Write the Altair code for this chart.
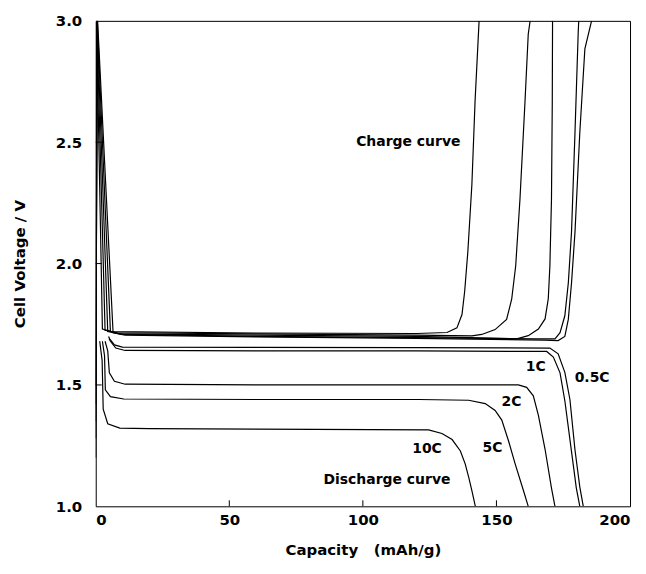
import altair as alt
import pandas as pd

# ---- Charge curves (capacity mAh/g, voltage V) ----
ch1_cap = [0.0, 0.3, 2.5, 6, 60, 120, 131.5, 135.2, 137.1, 138.1, 139.3, 140.8, 142.0, 143.5]
ch1_v = [1.20, 3.0, 1.73, 1.72, 1.714, 1.712, 1.716, 1.735, 1.79, 1.885, 2.05, 2.325, 2.67, 3.0]

ch2_cap = [0.0, 0.4, 3.5, 8, 60, 120, 140.8, 144.5, 149.5, 153.8, 155.7, 157.2, 158.8, 160.7, 161.9, 162.6]
ch2_v = [1.28, 3.0, 1.725, 1.715, 1.71, 1.705, 1.702, 1.708, 1.728, 1.77, 1.853, 1.99, 2.265, 2.67, 2.945, 3.0]

ch3_cap = [0.0, 0.5, 4.5, 9, 60, 120, 157.6, 161.9, 165.7, 168.2, 169.4, 170.0, 170.6, 170.9, 171.0]
ch3_v = [1.35, 3.0, 1.72, 1.71, 1.705, 1.70, 1.69, 1.703, 1.73, 1.772, 1.855, 1.99, 2.265, 2.67, 3.0]

ch4_cap = [0.0, 0.6, 5.5, 10, 60, 120, 165, 171.9, 173.8, 175.6, 176.9, 178.1, 179.4, 180.6, 180.8]
ch4_v = [1.42, 3.0, 1.72, 1.708, 1.70, 1.695, 1.69, 1.69, 1.715, 1.785, 1.92, 2.13, 2.54, 2.95, 3.0]

ch5_cap = [0.0, 0.7, 6.5, 11, 60, 120, 168, 173.1, 175.6, 176.9, 178.1, 179.4, 181.2, 183.1, 185.6]
ch5_v = [1.50, 3.0, 1.715, 1.705, 1.698, 1.692, 1.685, 1.683, 1.70, 1.77, 1.92, 2.13, 2.54, 2.885, 3.0]

# ---- Discharge curves ----
d10_cap = [1.5, 2.4, 2.8, 4.5, 9, 20, 60, 124.6, 129.6, 133.4, 136.5, 138.3, 139.6, 140.8, 142.1]
d10_v = [1.68, 1.60, 1.40, 1.34, 1.322, 1.32, 1.318, 1.315, 1.30, 1.275, 1.228, 1.175, 1.12, 1.065, 1.0]

d5_cap = [2.5, 3.3, 3.6, 5.5, 10.5, 60, 120.9, 139.6, 145.8, 149.5, 152.0, 154.5, 157.0, 160.1, 161.9]
d5_v = [1.68, 1.62, 1.48, 1.452, 1.442, 1.44, 1.44, 1.437, 1.423, 1.395, 1.355, 1.27, 1.175, 1.065, 1.0]

d2_cap = [3.5, 4.5, 5.1, 7, 11, 60, 120, 158.2, 161.3, 163.8, 165.7, 168.2, 170.6, 171.9]
d2_v = [1.68, 1.64, 1.55, 1.515, 1.503, 1.50, 1.50, 1.50, 1.49, 1.455, 1.375, 1.235, 1.075, 1.0]

d1_cap = [5.0, 5.5, 7.5, 11, 60, 120, 168.8, 171.3, 173.8, 175.6, 178.1, 179.9, 181.2]
d1_v = [1.69, 1.68, 1.652, 1.642, 1.64, 1.64, 1.638, 1.615, 1.55, 1.435, 1.225, 1.075, 1.0]

d05_cap = [4.8, 5.2, 7, 10, 60, 120, 170.0, 173.1, 175.6, 177.5, 179.4, 181.2, 182.5]
d05_v = [1.70, 1.69, 1.665, 1.656, 1.655, 1.654, 1.652, 1.628, 1.552, 1.44, 1.232, 1.08, 1.0]

# ---- Annotations ----
ann_text = ["Charge curve", "Discharge curve", "10C", "5C", "2C", "1C", "0.5C"]
ann_x = [117, 109, 124, 148.5, 155.6, 164.7, 185.8]
ann_y = [2.50, 1.11, 1.235, 1.24, 1.43, 1.575, 1.53]

x_ticks = [0, 50, 100, 150, 200]
y_ticks = [1.0, 1.5, 2.0, 2.5, 3.0]
x_inner = [50, 100, 150]
y_inner = [1.5, 2.0, 2.5]

series = [
    ("ch1", ch1_cap, ch1_v), ("ch2", ch2_cap, ch2_v), ("ch3", ch3_cap, ch3_v),
    ("ch4", ch4_cap, ch4_v), ("ch5", ch5_cap, ch5_v),
    ("d10", d10_cap, d10_v), ("d5", d5_cap, d5_v), ("d2", d2_cap, d2_v),
    ("d1", d1_cap, d1_v), ("d05", d05_cap, d05_v),
]
rows = []
for name, caps, vs in series:
    for i, (c, v) in enumerate(zip(caps, vs)):
        rows.append({"series": name, "cap": c, "v": v, "ord": i})
df = pd.DataFrame(rows)
ann = pd.DataFrame({"label": ann_text, "cap": ann_x, "v": ann_y})

W, H = 536, 487
FONT = "DejaVu Sans"
xs = alt.Scale(domain=[0, 200], nice=False, zero=False)
ys = alt.Scale(domain=[1.0, 3.0], nice=False, zero=False)
X_TITLE = "Capacity\u00a0\u00a0\u00a0(mAh/g)"
Y_TITLE = "Cell Voltage / V"
x_axis = alt.Axis(values=x_ticks, format="d", labelPadding=6, titlePadding=15)
y_axis = alt.Axis(values=y_ticks, format=".1f", labelPadding=14, titlePadding=28)


def X():
    return alt.X("cap:Q", scale=xs, axis=x_axis, title=X_TITLE)


def Y():
    return alt.Y("v:Q", scale=ys, axis=y_axis, title=Y_TITLE)


lines = alt.Chart(df).mark_line(color="black", strokeWidth=1.2, clip=True).encode(
    x=X(), y=Y(), detail="series:N", order="ord:Q",
)

texts = alt.Chart(ann).mark_text(font=FONT, fontWeight="bold", fontSize=14, color="black").encode(
    x=X(), y=Y(), text="label:N",
)

xt = alt.Chart(pd.DataFrame({"cap": x_inner})).mark_rule(color="black").encode(
    x=X(), y=alt.value(H), y2=alt.value(H - 6))
yt = alt.Chart(pd.DataFrame({"v": y_inner})).mark_rule(color="black").encode(
    y=Y(), x=alt.value(0), x2=alt.value(6))

chart = alt.layer(lines, texts, xt, yt).properties(
    width=W, height=H,
    autosize=alt.AutoSizeParams(type="none"),
    padding={"left": 88, "top": 12, "right": 8, "bottom": 60},
).configure_view(stroke="black", strokeWidth=1).configure_axis(
    domain=False, grid=False, ticks=False,
    labelFont=FONT, labelFontWeight="bold", labelFontSize=15, labelColor="black",
    titleFont=FONT, titleFontWeight="bold", titleFontSize=15, titleColor="black",
)

chart.save("out.html", embed_options={"renderer": "svg", "actions": False})
